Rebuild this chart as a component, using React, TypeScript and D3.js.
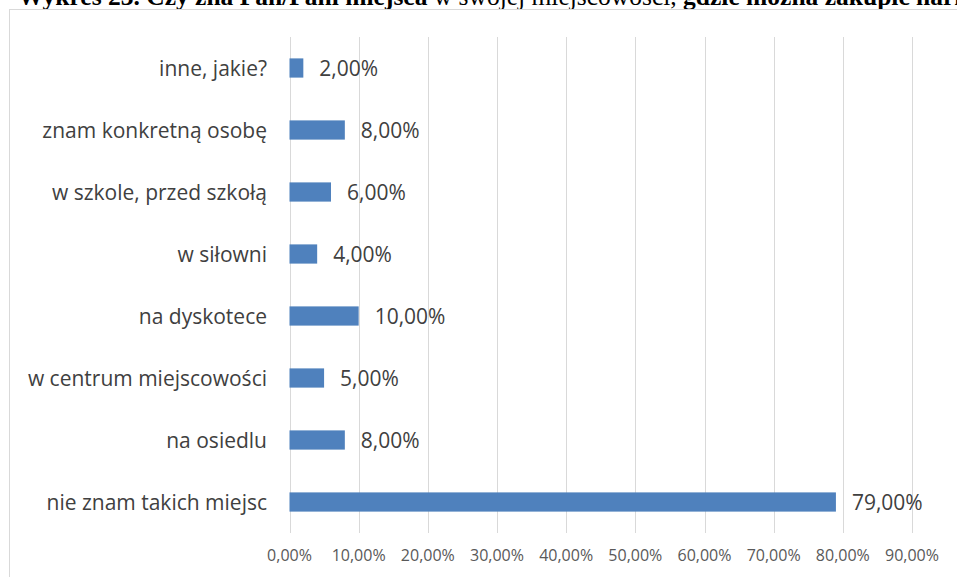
import React from "react";
import * as d3 from "d3";

const categories: string[] = [
  "inne, jakie?",
  "znam konkretną osobę",
  "w szkole, przed szkołą",
  "w siłowni",
  "na dyskotece",
  "w centrum miejscowości",
  "na osiedlu",
  "nie znam takich miejsc",
];
const values: number[] = [0.02, 0.08, 0.06, 0.04, 0.1, 0.05, 0.08, 0.79];
const ticks: number[] = [0, 0.1, 0.2, 0.3, 0.4, 0.5, 0.6, 0.7, 0.8, 0.9];
const titleParts = [
  { text: "Wykres 23. Czy zna Pan/Pani miejsca ", bold: true },
  { text: "w swojej miejscowości, ", bold: false },
  { text: "gdzie można zakupić narkotyki?", bold: true },
];

const fmt = (v: number) => (v * 100).toFixed(2).replace(".", ",") + "%";

export default function App() {
  const W = 957;
  const H = 577;
  const x = d3.scaleLinear().domain([0, 0.9]).range([289.5, 912]);
  const y = d3
    .scaleBand<string>()
    .domain(categories)
    .range([37, 533])
    .paddingInner(0.69)
    .paddingOuter(0.345);
  const font = "'Open Sans', sans-serif";
  return (
    <svg
      width={W}
      height={H}
      style={{ position: "absolute", left: 0, top: 0, background: "#fff" }}
    >
      <text
        x={18}
        y={5}
        fontFamily="'Liberation Serif', serif"
        fontSize={25.5}
        fill="#000"
      >
        {titleParts.map((p, i) => (
          <tspan key={i} fontWeight={p.bold ? "bold" : "normal"}>
            {p.text}
          </tspan>
        ))}
      </text>
      <rect
        x={9.5}
        y={9.5}
        width={W + 20}
        height={H + 20}
        fill="#fff"
        stroke="#d9d9d9"
        strokeWidth={1}
      />
      {ticks.map((t) => (
        <g key={t}>
          <line
            x1={Math.round(x(t)) + 0.5}
            x2={Math.round(x(t)) + 0.5}
            y1={37}
            y2={533}
            stroke="#d9d9d9"
            strokeWidth={1}
          />
          <text
            x={x(t)}
            y={561}
            textAnchor="middle"
            fontFamily={font}
            fontSize={16}
            fill="#595959"
          >
            {fmt(t)}
          </text>
        </g>
      ))}
      {categories.map((c, i) => {
        const yy = y(c)!;
        const bw = y.bandwidth();
        return (
          <g key={c}>
            <rect
              x={x(0)}
              y={yy}
              width={x(values[i]) - x(0)}
              height={bw}
              fill="#4f81bd"
            />
            <text
              x={267}
              y={yy + bw / 2}
              dy="0.37em"
              textAnchor="end"
              fontFamily={font}
              fontSize={21}
              fill="#404040"
            >
              {c}
            </text>
            <text
              x={x(values[i]) + 16}
              y={yy + bw / 2}
              dy="0.37em"
              fontFamily={font}
              fontSize={21}
              fill="#404040"
            >
              {fmt(values[i])}
            </text>
          </g>
        );
      })}
    </svg>
  );
}
